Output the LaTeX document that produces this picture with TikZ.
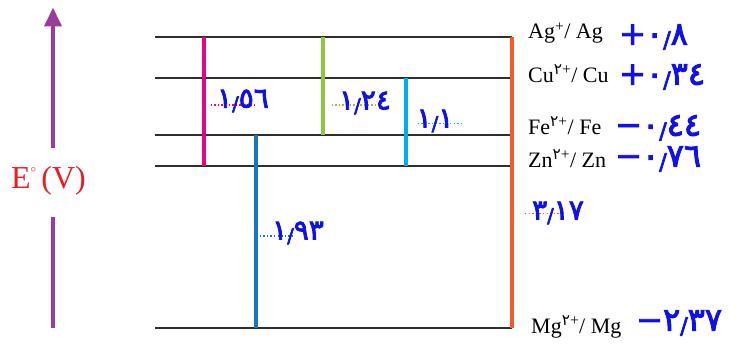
\documentclass[tikz,border=0pt]{standalone}
\usepackage{fontspec}
\setmainfont{Liberation Serif}
\newfontfamily\arabicfont{DejaVu Sans}
\newfontfamily\handfont[FakeBold=3]{DejaVu Sans}
\usetikzlibrary{arrows.meta}

\definecolor{levelgray}{HTML}{2E2E2E}
\definecolor{axispurple}{HTML}{9B3D98}
\definecolor{axisred}{HTML}{ED1C24}
\definecolor{cellpink}{HTML}{E6057F}
\definecolor{cellblue}{HTML}{1B75BB}
\definecolor{cellgreen}{HTML}{8DC63F}
\definecolor{cellcyan}{HTML}{00AEEF}
\definecolor{cellorange}{HTML}{F15A2B}
\definecolor{handblue}{HTML}{1010E8}

% half-cell label: symbol, superscript charge
\newcommand\halfcell[2]{#1\textsuperscript{#2}/ #1}
\newcommand\artwo{{\arabicfont ٢}}
% decimal mark as a short slanted stroke
\newcommand\dsep{\raisebox{-3pt}{\scalebox{0.7}{/}}}

\begin{document}
\begin{tikzpicture}[x=1pt,y=-1pt,
  level/.style={draw=levelgray,line width=2.2pt},
  cellline/.style={line width=4pt},
  guide/.style={line width=1.3pt,dash pattern=on 1.4pt off 2.2pt},
  couple/.style={anchor=base west,font=\fontsize{22}{24}\selectfont,inner sep=0pt},
  hand/.style={text=handblue,font=\handfont\fontsize{28}{30}\selectfont,inner sep=0pt},
  potential/.style={hand,anchor=west,font=\handfont\fontsize{32}{34}\selectfont},
  axis/.style={draw=axispurple,line width=4pt}]
\useasboundingbox (0,0) rectangle (753,344);

% reduction potential levels
\foreach \n/\y in {ag/37,cu/77.8,fe/135.3,zn/165.7,mg/328}{
  \coordinate (\n L) at (155,\y);
  \coordinate (\n R) at (512,\y);
  \draw[level] (\n L) -- (\n R);
}

% x positions of the cell bars
\coordinate (xpink) at (203.5,0);
\coordinate (xblue) at (256,0);
\coordinate (xgreen) at (322.5,0);
\coordinate (xcyan) at (406.3,0);
\coordinate (xorange) at (512,0);

\draw[cellline,cellpink] (xpink |- agL) -- (xpink |- znL);
\draw[cellline,cellblue] (xblue |- feL) -- (xblue |- mgL);
\draw[cellline,cellgreen] (xgreen |- agL) -- (xgreen |- feL);
\draw[cellline,cellcyan] (xcyan |- cuL) -- (xcyan |- znL);
\draw[cellline,cellorange] (xorange |- agL) -- (xorange |- mgL);

% dotted guides towards the cell voltages
\coordinate (gp1) at (210.5,105); \coordinate (gp2) at (256,105);
\coordinate (gg1) at (331.5,105); \coordinate (gg2) at (375,105);
\coordinate (gc1) at (417.5,123.5); \coordinate (gc2) at (463,123.5);
\coordinate (gb1) at (259.5,236); \coordinate (gb2) at (295,236);
\coordinate (go1) at (525,213.5); \coordinate (go2) at (560,213.5);
\draw[guide,cellpink] (gp1) -- (gp2);
\draw[guide,cellgreen] (gg1) -- (gg2);
\draw[guide,cellcyan] (gc1) -- (gc2);
\draw[guide,cellblue] (gb1) -- (gb2);
\draw[guide,cellorange] (go1) -- (go2);

% cell voltages
\node[hand] (vpink) at (243,101) {١\dsep٥٦};
\node[hand] (vgreen) at (365,103) {١\dsep٢٤};
\node[hand] (vcyan) at (435,121) {١\dsep١};
\node[hand] (vblue) at (298,233) {١\dsep٩٣};
\node[hand] (vorange) at (558,213) {٣\dsep١٧};

% half-cell couples
\node[couple] (cag) at (528,39) {\halfcell{Ag}{+}};
\node[couple] (ccu) at (528,82.5) {\halfcell{Cu}{\artwo+}};
\node[couple] (cfe) at (528,134.5) {\halfcell{Fe}{\artwo+}};
\node[couple] (czn) at (528,167.5) {\halfcell{Zn}{\artwo+}};
\node[couple] (cmg) at (531,333.5) {\halfcell{Mg}{\artwo+}};

% standard potentials
\node[potential] (pag) at (619,37) {+٠\dsep٨};
\node[potential] (pcu) at (619,77) {+٠\dsep٣٤};
\node[potential] (pfe) at (615,128) {−٠\dsep٤٤};
\node[potential] (pzn) at (615,159) {−٠\dsep٧٦};
\node[potential] (pmg) at (636,323) {−٢\dsep٣٧};

% potential axis
\node[text=axisred,font=\fontsize{32}{34}\selectfont,inner sep=0pt] (elab) at (48.5,181)
  {E\raisebox{0.5em}{\fontsize{11}{11}\selectfont$\circ$}\,(V)};
\coordinate (axtop) at (53,7.5);
\coordinate (axbot) at (53,328);
\draw[axis,-{Triangle[length=19pt,width=17pt]}] (53,148) -- (axtop);
\draw[axis] (53,217) -- (axbot);
\end{tikzpicture}
\end{document}
